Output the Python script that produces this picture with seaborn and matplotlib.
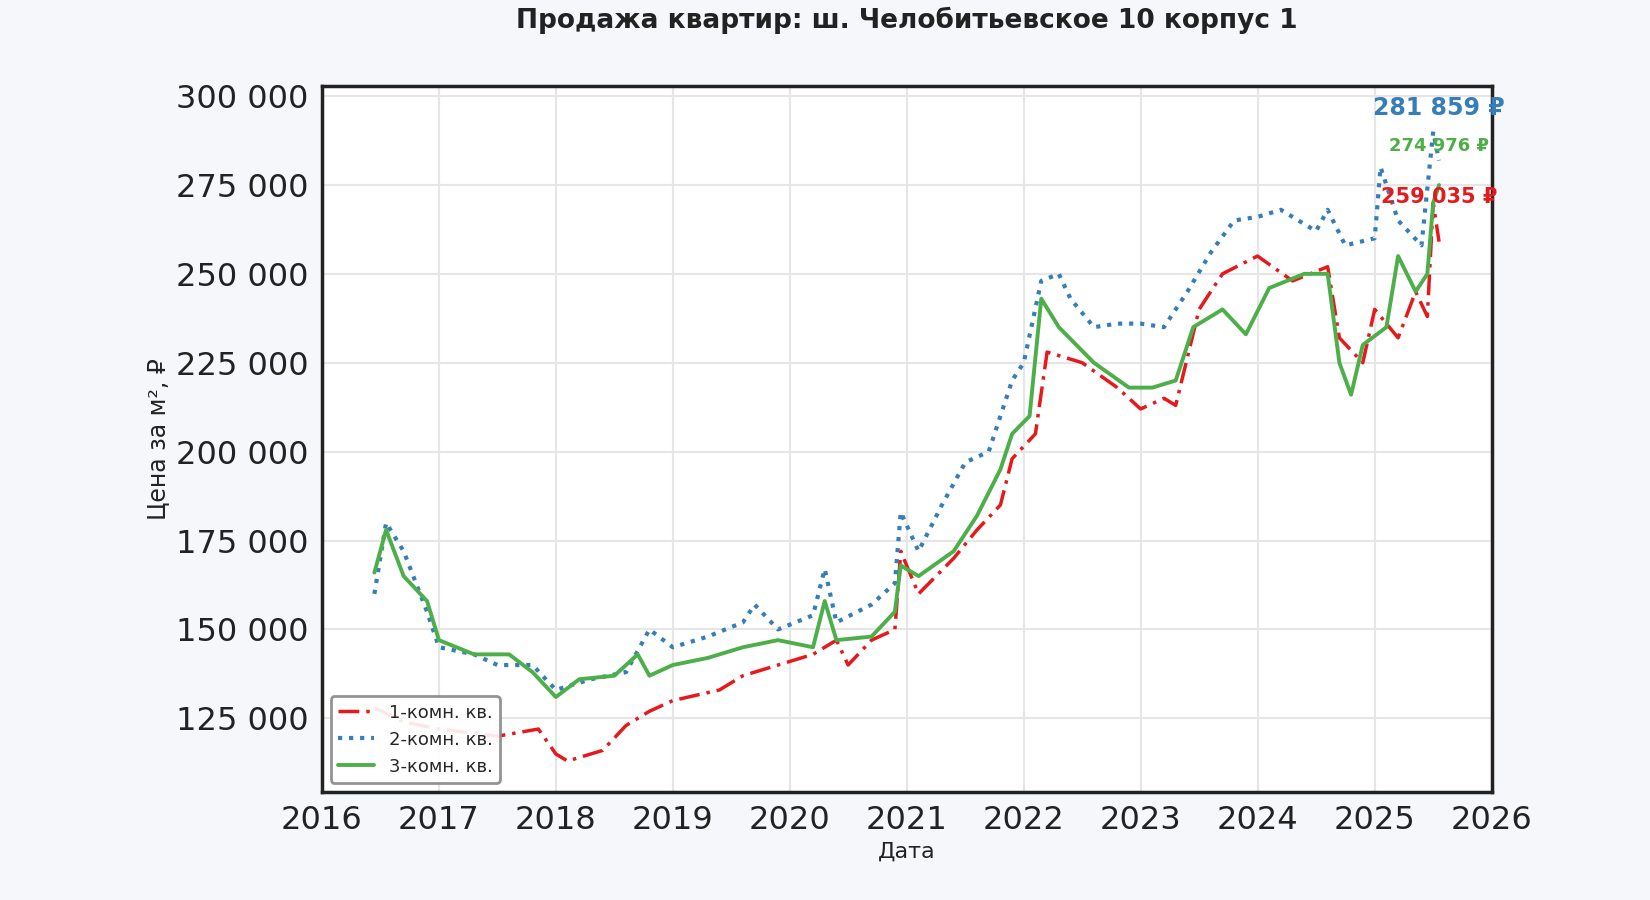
import matplotlib
matplotlib.use("Agg")
import matplotlib.pyplot as plt
import seaborn as sns
import pandas as pd
import numpy as np
import matplotlib.dates as mdates
from matplotlib.ticker import FuncFormatter

t2 = [2016.45,2016.55,2016.7,2016.9,2017.0,2017.3,2017.5,2017.8,2018.0,2018.3,2018.6,2018.8,2019.0,2019.3,2019.6,2019.7,2019.9,2020.2,2020.3,2020.4,2020.7,2020.9,2020.95,2021.1,2021.3,2021.5,2021.7,2021.9,2022.0,2022.15,2022.3,2022.4,2022.6,2022.8,2023.0,2023.2,2023.4,2023.6,2023.8,2024.0,2024.2,2024.5,2024.6,2024.75,2025.0,2025.05,2025.2,2025.4,2025.5,2025.55]
v2 = [160000,180000,172000,155000,145000,143000,140000,140000,133000,136000,138000,150000,145000,148000,152000,157000,150000,154000,167000,152000,157000,163000,183000,172000,185000,197000,200000,220000,225000,248000,250000,243000,235000,236000,236000,235000,245000,256000,265000,266000,268000,262000,268000,258000,260000,280000,265000,258000,290000,281859]
t1 = [2016.45,2016.7,2017.0,2017.5,2017.85,2018.0,2018.1,2018.4,2018.6,2018.8,2019.0,2019.4,2019.6,2019.9,2020.2,2020.4,2020.5,2020.7,2020.9,2020.95,2021.1,2021.4,2021.6,2021.8,2021.9,2022.1,2022.2,2022.5,2022.8,2023.0,2023.2,2023.3,2023.5,2023.7,2024.0,2024.3,2024.6,2024.7,2024.9,2025.0,2025.2,2025.35,2025.45,2025.5,2025.55]
v1 = [128000,124000,122000,120000,122000,115000,113000,116000,123000,127000,130000,133000,137000,140000,143000,147000,140000,147000,150000,172000,160000,170000,178000,185000,198000,205000,228000,225000,218000,212000,215000,213000,240000,250000,255000,248000,252000,232000,225000,240000,232000,245000,238000,270000,259035]
t3 = [2016.45,2016.55,2016.7,2016.9,2017.0,2017.3,2017.6,2017.8,2018.0,2018.2,2018.5,2018.7,2018.8,2019.0,2019.3,2019.6,2019.9,2020.2,2020.3,2020.4,2020.7,2020.9,2020.95,2021.1,2021.4,2021.6,2021.8,2021.9,2022.05,2022.15,2022.3,2022.6,2022.9,2023.1,2023.3,2023.45,2023.7,2023.9,2024.1,2024.4,2024.6,2024.7,2024.8,2024.9,2025.1,2025.2,2025.35,2025.45,2025.5,2025.55]
v3 = [166000,178000,165000,158000,147000,143000,143000,138000,131000,136000,137000,143000,137000,140000,142000,145000,147000,145000,158000,147000,148000,155000,168000,165000,172000,182000,195000,205000,210000,243000,235000,225000,218000,218000,220000,235000,240000,233000,246000,250000,250000,225000,216000,230000,235000,255000,245000,250000,270000,274976]

labels = ["1-комн. кв.", "2-комн. кв.", "3-комн. кв."]
colors = ["#e41a1c", "#377eb8", "#4daf4a"]

def to_dt(ts):
    out = []
    for t in ts:
        y = int(t); frac = t - y
        out.append(pd.Timestamp(year=y, month=1, day=1) + pd.Timedelta(days=frac * 365.25))
    return out

sns.set_theme(style="whitegrid")
plt.rcParams['font.family'] = ['DejaVu Sans']
fig = plt.figure(figsize=(16.5, 9), dpi=100, facecolor="#f5f7fb")
ax = fig.add_axes([0.195, 0.12, 0.709, 0.784])
ax.set_facecolor("white")

styles = [(0, (6, 2, 1, 2)), ":", "-"]
widths = [2.5, 3, 2.8]
for t, v, lab, c, ls, lw in zip([t1, t2, t3], [v1, v2, v3], labels, colors, styles, widths):
    df = pd.DataFrame({"date": to_dt(t), "v": v})
    sns.lineplot(data=df, x="date", y="v", ax=ax, color=c, linestyle=ls, lw=lw, label=lab)

ax.set_xlim(pd.Timestamp("2016-01-01"), pd.Timestamp("2026-01-01"))
ax.set_ylim(104300, 302700)
ax.set_yticks([125000, 150000, 175000, 200000, 225000, 250000, 275000, 300000])
ax.yaxis.set_major_formatter(FuncFormatter(lambda x, p: f"{int(x):,}".replace(",", " ")))
ax.xaxis.set_major_locator(mdates.YearLocator())
ax.xaxis.set_major_formatter(mdates.DateFormatter("%Y"))
ax.tick_params(labelsize=23, colors="#222222")
for s in ax.spines.values():
    s.set_edgecolor("#222222"); s.set_linewidth(2.5)
ax.grid(True, color="#e6e6e6", lw=1.5)
ax.set_xlabel("Дата", fontsize=16, color="#222222")
ax.set_ylabel("Цена за м², ₽", fontsize=17, color="#222222")
ax.set_title("Продажа квартир: ш. Челобитьевское 10 корпус 1", fontsize=19, fontweight="bold", pad=42, color="#222222")

end = pd.Timestamp("2025-07-20")
ax.text(end, 296500, "281 859 ₽", color=colors[1], fontsize=17, fontweight="bold", ha="center", va="center")
ax.text(end, 286000, "274 976 ₽", color=colors[2], fontsize=13, fontweight="bold", ha="center", va="center")
ax.text(end, 271500, "259 035 ₽", color=colors[0], fontsize=15, fontweight="bold", ha="center", va="center")

leg = ax.legend(loc="lower left", fontsize=13, frameon=True, fancybox=True, framealpha=0.9, handlelength=2)
leg.get_frame().set_edgecolor("#888888"); leg.get_frame().set_linewidth(2)
fig.savefig("out.png", dpi=100, facecolor=fig.get_facecolor())
